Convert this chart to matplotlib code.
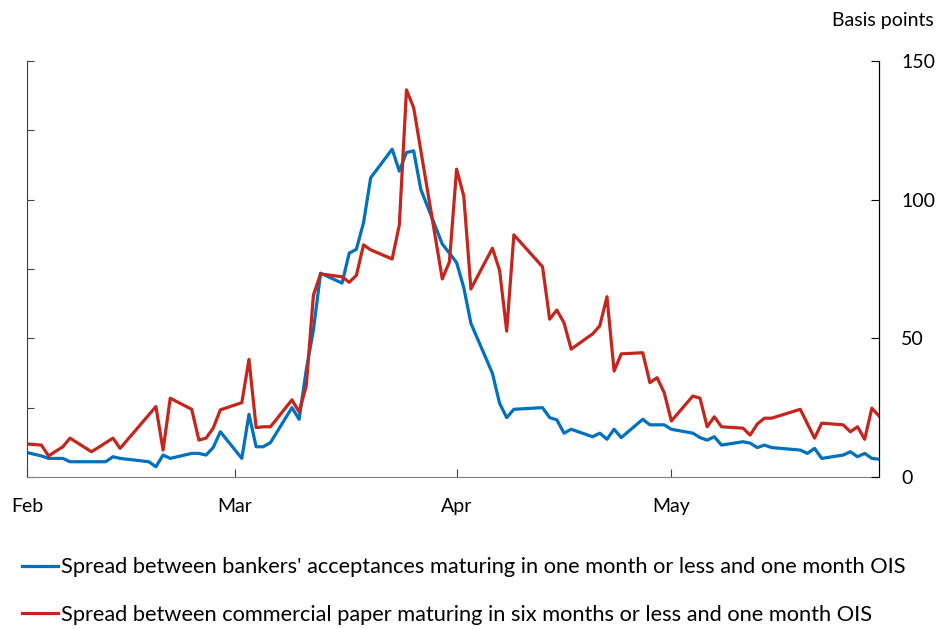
import matplotlib
matplotlib.use("Agg")
import matplotlib.pyplot as plt
import matplotlib.dates as mdates
import pandas as pd

# Spread between bankers' acceptances (1 month or less) and one month OIS, basis points
ba_dates = [
    "2020-02-01", "2020-02-03", "2020-02-04", "2020-02-06", "2020-02-07", "2020-02-12",
    "2020-02-13", "2020-02-14", "2020-02-18", "2020-02-19", "2020-02-20", "2020-02-21",
    "2020-02-24", "2020-02-25", "2020-02-26", "2020-02-27", "2020-02-28", "2020-03-02",
    "2020-03-03", "2020-03-04", "2020-03-05", "2020-03-06", "2020-03-09", "2020-03-10",
    "2020-03-11", "2020-03-12", "2020-03-13", "2020-03-16", "2020-03-17", "2020-03-18",
    "2020-03-19", "2020-03-20", "2020-03-23", "2020-03-24", "2020-03-25", "2020-03-26",
    "2020-03-27", "2020-03-30", "2020-03-31", "2020-04-01", "2020-04-02", "2020-04-03",
    "2020-04-06", "2020-04-07", "2020-04-08", "2020-04-09", "2020-04-13", "2020-04-14",
    "2020-04-15", "2020-04-16", "2020-04-17", "2020-04-20", "2020-04-21", "2020-04-22",
    "2020-04-23", "2020-04-24", "2020-04-27", "2020-04-28", "2020-04-30", "2020-05-01",
    "2020-05-04", "2020-05-05", "2020-05-06", "2020-05-07", "2020-05-08", "2020-05-11",
    "2020-05-12", "2020-05-13", "2020-05-14", "2020-05-15", "2020-05-19", "2020-05-20",
    "2020-05-21", "2020-05-22", "2020-05-25", "2020-05-26", "2020-05-27", "2020-05-28",
    "2020-05-29", "2020-05-30",
]
ba_spread = [
    8.8, 7.6, 6.7, 6.7, 5.5, 5.5,
    7.3, 6.7, 5.5, 3.7, 7.9, 6.7,
    8.5, 8.5, 7.9, 10.6, 16.3, 6.7,
    22.6, 10.9, 10.9, 12.4, 25.0, 20.8,
    38.6, 53.0, 73.5, 69.9, 80.7, 82.1,
    91.7, 107.9, 118.2, 110.3, 117.0, 117.6,
    103.7, 84.0, 80.7, 77.3, 68.3, 55.4,
    37.4, 26.6, 21.4, 24.4, 25.0, 21.4,
    20.6, 15.8, 17.2, 14.5, 15.8, 13.6,
    17.2, 14.2, 20.8, 18.8, 18.8, 17.2,
    15.8, 14.2, 13.3, 14.5, 11.5, 12.7,
    12.2, 10.6, 11.5, 10.6, 9.7, 8.5,
    10.3, 6.7, 7.9, 9.1, 7.3, 8.5,
    6.7, 6.4,
]

# Spread between commercial paper (6 months or less) and one month OIS, basis points
cp_dates = [
    "2020-02-01", "2020-02-03", "2020-02-04", "2020-02-06", "2020-02-07", "2020-02-10",
    "2020-02-11", "2020-02-13", "2020-02-14", "2020-02-19", "2020-02-20", "2020-02-21",
    "2020-02-24", "2020-02-25", "2020-02-26", "2020-02-27", "2020-02-28", "2020-03-02",
    "2020-03-03", "2020-03-04", "2020-03-05", "2020-03-06", "2020-03-09", "2020-03-10",
    "2020-03-11", "2020-03-12", "2020-03-13", "2020-03-16", "2020-03-17", "2020-03-18",
    "2020-03-19", "2020-03-20", "2020-03-23", "2020-03-24", "2020-03-25", "2020-03-26",
    "2020-03-30", "2020-03-31", "2020-04-01", "2020-04-02", "2020-04-03", "2020-04-06",
    "2020-04-07", "2020-04-08", "2020-04-09", "2020-04-13", "2020-04-14", "2020-04-15",
    "2020-04-16", "2020-04-17", "2020-04-20", "2020-04-21", "2020-04-22", "2020-04-23",
    "2020-04-24", "2020-04-27", "2020-04-28", "2020-04-29", "2020-04-30", "2020-05-01",
    "2020-05-04", "2020-05-05", "2020-05-06", "2020-05-07", "2020-05-08", "2020-05-11",
    "2020-05-12", "2020-05-13", "2020-05-14", "2020-05-15", "2020-05-19", "2020-05-21",
    "2020-05-22", "2020-05-25", "2020-05-26", "2020-05-27", "2020-05-28", "2020-05-29",
    "2020-05-30",
]
cp_spread = [
    11.9, 11.5, 7.6, 10.9, 14.0, 9.1,
    10.7, 14.0, 10.3, 25.4, 9.7, 28.4,
    24.4, 13.3, 14.0, 17.6, 24.2, 26.8,
    42.4, 17.8, 18.1, 18.1, 27.8, 23.5,
    32.8, 65.6, 73.2, 72.2, 70.2, 72.7,
    83.7, 81.9, 78.6, 90.9, 139.6, 133.2,
    71.4, 77.6, 111.0, 101.3, 67.8, 82.5,
    74.6, 52.6, 87.3, 75.8, 56.9, 60.2,
    55.6, 46.1, 51.6, 54.5, 65.0, 38.2,
    44.4, 44.8, 34.0, 35.8, 30.4, 20.2,
    29.2, 28.4, 18.1, 21.7, 18.1, 17.6,
    15.1, 19.1, 21.2, 21.2, 24.4, 14.0,
    19.4, 18.8, 16.3, 18.1, 13.6, 24.8,
    22.0,
]

labels = [
    "Spread between bankers' acceptances maturing in one month or less and one month OIS",
    "Spread between commercial paper maturing in six months or less and one month OIS",
]
blue = "#0070C0"
red = "#C4261D"

plt.rcParams["font.family"] = ["Lato", "DejaVu Sans"]

fig = plt.figure(figsize=(9.39, 6.29), dpi=100)
ax = fig.add_axes([0.0288, 0.2417, 0.9073, 0.6613])

ax.plot(pd.to_datetime(ba_dates), ba_spread, color=blue, lw=2.3, label=labels[0])
ax.plot(pd.to_datetime(cp_dates), cp_spread, color=red, lw=2.3, label=labels[1])

ax.set_xlim(pd.Timestamp("2020-02-01"), pd.Timestamp("2020-05-30"))
ax.set_ylim(0, 150)
ax.xaxis.set_major_locator(mdates.MonthLocator())
ax.xaxis.set_major_formatter(mdates.DateFormatter("%b"))
ax.set_yticks(range(0, 151, 25))
ax.tick_params(axis="y", direction="in", length=5, labelleft=False, color="#404040")
ax.tick_params(axis="x", direction="in", length=6, pad=15, labelsize=14, color="#404040")

# labelled axis on the right
ax2 = ax.twinx()
ax2.set_ylim(0, 150)
ax2.set_yticks([0, 50, 100, 150])
ax2.tick_params(axis="y", direction="in", length=6, pad=16, labelsize=14)

for a in (ax, ax2):
    a.spines["top"].set_visible(False)
ax.spines["left"].set_color("#404040")
ax.spines["bottom"].set_color("#7f7f7f")
ax2.spines["bottom"].set_visible(False)
ax2.spines["left"].set_visible(False)

fig.text(0.994, 0.968, "Basis points", ha="right", va="center", fontsize=14)

fig.legend(loc="upper left", bbox_to_anchor=(0.0234, 0.1137), frameon=False,
           fontsize=15.7, handlelength=1.65, handletextpad=0.14,
           labelspacing=1.24, borderpad=0, borderaxespad=0)

fig.savefig("out.png", dpi=100)
